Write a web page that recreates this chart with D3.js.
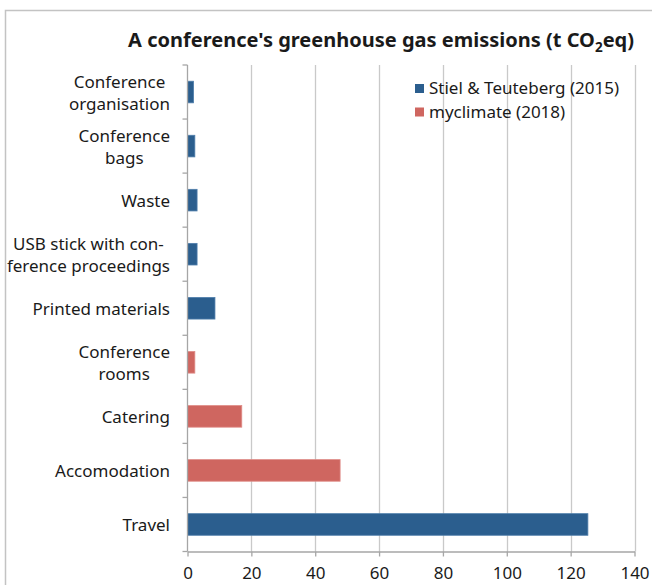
<!DOCTYPE html>
<html>
<head>
<meta charset="utf-8">
<script src="https://cdn.jsdelivr.net/npm/d3@7"></script>
<style>
  body { margin: 0; background: #fff; }
  svg text { font-family: "Noto Sans", sans-serif; fill: #1a1a1a; }
</style>
</head>
<body>
<div id="chart"></div>
<script>
// Data (t CO2eq)
var categories = [
  "Conference organisation",
  "Conference bags",
  "Waste",
  "USB stick with conference proceedings",
  "Printed materials",
  "Conference rooms",
  "Catering",
  "Accomodation",
  "Travel"
];
// how each category label is broken into lines
var categoryLines = [
  ["Conference", "organisation"],
  ["Conference", "bags"],
  ["Waste"],
  ["USB stick with con-", "ference proceedings"],
  ["Printed materials"],
  ["Conference", "rooms"],
  ["Catering"],
  ["Accomodation"],
  ["Travel"]
];
var seriesNames = ["Stiel & Teuteberg (2015)", "myclimate (2018)"];
var stielValues = [1.9, 2.3, 3.0, 3.0, 8.6, null, null, null, 125.4];
var myclimateValues = [null, null, null, null, null, 2.3, 17.0, 47.8, null];
var xTicks = [0, 20, 40, 60, 80, 100, 120, 140];

var colors = ["#2b5e8e", "#cf6660"];
var strokes = ["#4f7eab", "#df8c87"];

var width = 652, height = 585;

var svg = d3.select("#chart")
  .append("svg")
  .attr("width", width)
  .attr("height", height);

// chart frame (runs off the right and bottom edge)
svg.append("rect")
  .attr("x", 5.5).attr("y", 10.5)
  .attr("width", 800).attr("height", 800)
  .attr("fill", "none")
  .attr("stroke", "#c3c3c3")
  .attr("stroke-width", 1.5);

// title with subscript
var title = svg.append("text")
  .attr("x", 634)
  .attr("y", 47)
  .attr("text-anchor", "end")
  .style("font-size", "20px")
  .style("font-weight", "bold");
title.append("tspan").text("A conference's greenhouse gas emissions (t CO");
title.append("tspan").attr("dy", 5).style("font-size", "13.5px").text("2");
title.append("tspan").attr("dy", -5).text("eq)");

var x = d3.scaleLinear()
  .domain([0, 140])
  .range([187.5, 634.5]);

var y = d3.scaleBand()
  .domain(categories)
  .range([65, 551.5])
  .paddingInner(0.6)
  .paddingOuter(0.3);

var step = y.step();
var top0 = y.range()[0], bottom0 = y.range()[1];

// vertical gridlines
svg.append("g")
  .selectAll("line")
  .data(xTicks.filter(function(d) { return d > 0; }))
  .enter()
  .append("line")
  .attr("x1", function(d) { return Math.round(x(d)) + 0.5; })
  .attr("x2", function(d) { return Math.round(x(d)) + 0.5; })
  .attr("y1", top0)
  .attr("y2", bottom0)
  .attr("stroke", "#c9c9c9")
  .attr("stroke-width", 1.3);

// bars
var bars = [];
categories.forEach(function(c, i) {
  if (stielValues[i] != null) bars.push({ cat: c, v: stielValues[i], s: 0 });
  if (myclimateValues[i] != null) bars.push({ cat: c, v: myclimateValues[i], s: 1 });
});

svg.append("g")
  .selectAll("rect")
  .data(bars)
  .enter()
  .append("rect")
  .attr("x", x(0))
  .attr("y", function(d) { return y(d.cat); })
  .attr("width", function(d) { return x(d.v) - x(0); })
  .attr("height", y.bandwidth())
  .attr("fill", function(d) { return colors[d.s]; })
  .attr("stroke", function(d) { return strokes[d.s]; })
  .attr("stroke-width", 0.8);

// x axis
var xAxis = svg.append("g")
  .attr("transform", "translate(0," + bottom0 + ")")
  .call(d3.axisBottom(x).tickValues(xTicks).tickSize(5).tickPadding(10).tickSizeOuter(0));
xAxis.select(".domain").attr("stroke", "#a6a6a6").attr("stroke-width", 1.3);
xAxis.selectAll(".tick line").attr("stroke", "#a6a6a6").attr("stroke-width", 1.3);
xAxis.selectAll(".tick text")
  .style("font-family", "'Noto Sans', sans-serif")
  .style("font-size", "17px")
  .attr("fill", "#1a1a1a");

// y axis line with tick marks between categories
var yg = svg.append("g");
yg.append("line")
  .attr("x1", x(0)).attr("x2", x(0))
  .attr("y1", top0).attr("y2", bottom0)
  .attr("stroke", "#a6a6a6")
  .attr("stroke-width", 1.3);
yg.selectAll("line.tk")
  .data(d3.range(categories.length + 1))
  .enter()
  .append("line")
  .attr("class", "tk")
  .attr("x1", x(0) - 5).attr("x2", x(0))
  .attr("y1", function(i) { return top0 + i * step; })
  .attr("y2", function(i) { return top0 + i * step; })
  .attr("stroke", "#a6a6a6")
  .attr("stroke-width", 1.3);

// category labels: centred lines, block right-aligned at 170
var lineH = 22;
categories.forEach(function(c, i) {
  var lines = categoryLines[i];
  var cy = y(c) + y.bandwidth() / 2;
  var t = yg.append("text")
    .attr("text-anchor", "middle")
    .style("font-size", "17px");
  lines.forEach(function(l, j) {
    t.append("tspan")
      .attr("y", cy + (j - (lines.length - 1) / 2) * lineH + 6.5)
      .text(l);
  });
  var maxW = 0;
  t.selectAll("tspan").each(function() {
    maxW = Math.max(maxW, this.getComputedTextLength());
  });
  t.selectAll("tspan").attr("x", 170 - maxW / 2);
});

// legend
var legend = svg.append("g")
  .selectAll("g")
  .data(seriesNames)
  .enter()
  .append("g")
  .attr("transform", function(d, i) { return "translate(415," + (84 + i * 23.5) + ")"; });
legend.append("rect")
  .attr("width", 9).attr("height", 9)
  .attr("fill", function(d, i) { return colors[i]; });
legend.append("text")
  .attr("x", 14)
  .attr("y", 10)
  .style("font-size", "17px")
  .text(function(d) { return d; });
</script>
</body>
</html>
